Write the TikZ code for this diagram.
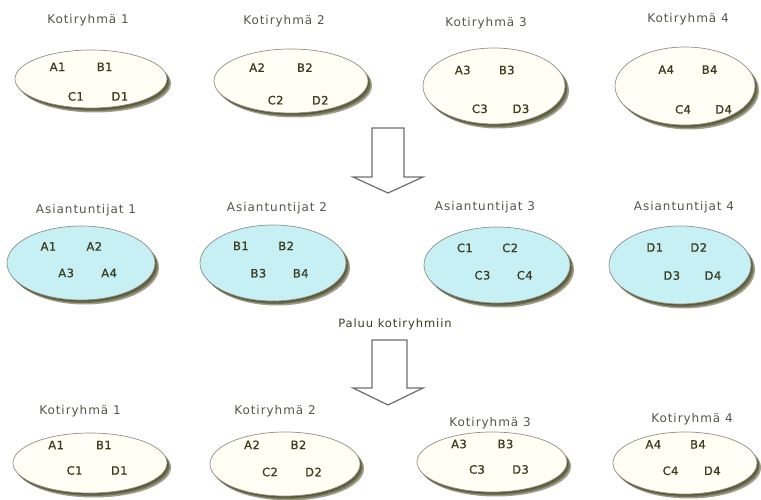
\documentclass[tikz,border=0pt]{standalone}
\usepackage{fontspec}
\usetikzlibrary{shapes.geometric}
\setmainfont{DejaVu Sans}
\newfontfamily\titlefont[LetterSpace=8]{DejaVu Sans}
\newfontfamily\labfont[FakeBold=1,LetterSpace=4]{DejaVu Sans}
\definecolor{titlegray}{HTML}{55554A}
\definecolor{labcol}{HTML}{3C3C1E}
\definecolor{shadowcol}{HTML}{3E3E18}
\definecolor{rimcol}{HTML}{909088}
\definecolor{homefill}{HTML}{FFFFF6}
\definecolor{expfill}{HTML}{C6F0F4}
\definecolor{arrowcol}{HTML}{6E6E6E}
\tikzset{
  grptitle/.style={font=\titlefont\fontsize{12}{14}\selectfont, text=titlegray, inner sep=0pt},
  memb/.style={font=\labfont\fontsize{11.5}{13}\selectfont, text=labcol, inner sep=0pt},
  grpshadow/.style={ellipse, fill=shadowcol, fill opacity=0.5, draw=none, inner sep=0pt},
  grpring/.style={ellipse, draw=rimcol, line width=0.7pt, inner sep=0pt},
  blockarrow/.style={draw=arrowcol, line width=1.2pt, fill=white, line join=miter},
}
\newcommand{\rowA}{-0.42}\newcommand{\rowC}{0.5}\newcommand{\lsh}{0}
% #1 name, #2 cx, #3 cy, #4 rx, #5 ry, #6 fill
\newcommand{\grp}[6]{%
  \node[grpshadow, minimum width=2*#4pt, minimum height=2*#5pt] (#1s1) at (#2+1,#3+1.5) {};
  \node[grpshadow, minimum width=2*#4pt, minimum height=2*#5pt] (#1s2) at (#2+2.5,#3+3) {};
  \node[grpshadow, minimum width=2*#4pt, minimum height=2*#5pt] (#1s3) at (#2+4,#3+4.5) {};
  \node[grpring, fill=#6, minimum width=2*#4pt, minimum height=2*#5pt] (#1) at (#2,#3) {};
  \def\gname{#1}\def\gx{#2}\def\gy{#3}\def\grx{#4}\def\gry{#5}}
\newcommand{\members}[4]{%
  \node[memb] (\gname a) at (\gx+\lsh-0.44*\grx,\gy+\rowA*\gry) {#1};
  \node[memb] (\gname b) at (\gx+\lsh+0.18*\grx,\gy+\rowA*\gry) {#2};
  \node[memb] (\gname c) at (\gx+\lsh-0.20*\grx,\gy+\rowC*\gry) {#3};
  \node[memb] (\gname d) at (\gx+\lsh+0.38*\grx,\gy+\rowC*\gry) {#4};}
\begin{document}
\begin{tikzpicture}[x=1pt,y=-1pt]
\useasboundingbox (0,0) rectangle (761,500);
% row 1
\node[grptitle] (t11) at (88,20) {Kotiryhmä 1};
\node[grptitle] (t12) at (284,21) {Kotiryhmä 2};
\node[grptitle] (t13) at (486,23) {Kotiryhmä 3};
\node[grptitle] (t14) at (688,19) {Kotiryhmä 4};
\renewcommand{\rowA}{-0.42}\renewcommand{\rowC}{0.6}
\grp{k1}{91}{79}{76}{29}{homefill}\members{A1}{B1}{C1}{D1}
\grp{k2}{291}{81}{77}{32}{homefill}\members{A2}{B2}{C2}{D2}
\grp{k3}{494}{86}{71}{38}{homefill}\members{A3}{B3}{C3}{D3}
\renewcommand{\lsh}{12}
\grp{k4}{685}{86}{70}{39}{homefill}\members{A4}{B4}{C4}{D4}
\renewcommand{\lsh}{0}
% arrow 1
\draw[blockarrow] (372,128) -- (404,128) -- (404,177) -- (423,177) -- (388,193) -- (353,177) -- (372,177) -- cycle;
% row 2
\node[grptitle] (t21) at (86,210) {Asiantuntijat 1};
\node[grptitle] (t22) at (277,208) {Asiantuntijat 2};
\node[grptitle] (t23) at (485,207) {Asiantuntijat 3};
\node[grptitle] (t24) at (684,207) {Asiantuntijat 4};
\renewcommand{\rowA}{-0.45}\renewcommand{\rowC}{0.27}
\grp{e1}{81}{263}{74}{37}{expfill}\members{A1}{A2}{A3}{A4}
\grp{e2}{273}{263}{73}{38}{expfill}\members{B1}{B2}{B3}{B4}
\grp{e3}{497}{265}{73}{38}{expfill}\members{C1}{C2}{C3}{C4}
\renewcommand{\lsh}{6}
\grp{e4}{680}{265}{71}{39}{expfill}\members{D1}{D2}{D3}{D4}
\renewcommand{\lsh}{0}
% return label and arrow 2
\node[font=\titlefont\fontsize{11.5}{13}\selectfont, text=labcol, inner sep=0pt] (ret) at (395,324) {Paluu kotiryhmiin};
\draw[blockarrow] (372,340) -- (407,340) -- (407,388) -- (423,388) -- (388,405) -- (353,388) -- (372,388) -- cycle;
% row 3
\node[grptitle] (t31) at (80,411) {Kotiryhmä 1};
\node[grptitle] (t32) at (275,411) {Kotiryhmä 2};
\node[grptitle] (t33) at (490,423) {Kotiryhmä 3};
\node[grptitle] (t34) at (692,419) {Kotiryhmä 4};
\renewcommand{\rowA}{-0.6}\renewcommand{\rowC}{0.25}
\grp{r1}{90}{463}{77}{30}{homefill}\members{A1}{B1}{C1}{D1}
\grp{r2}{285}{464}{75}{32}{homefill}\members{A2}{B2}{C2}{D2}
\grp{r3}{492}{462}{75}{30}{homefill}\members{A3}{B3}{C3}{D3}
\grp{r4}{685}{463}{72}{31}{homefill}\members{A4}{B4}{C4}{D4}
\end{tikzpicture}
\end{document}
